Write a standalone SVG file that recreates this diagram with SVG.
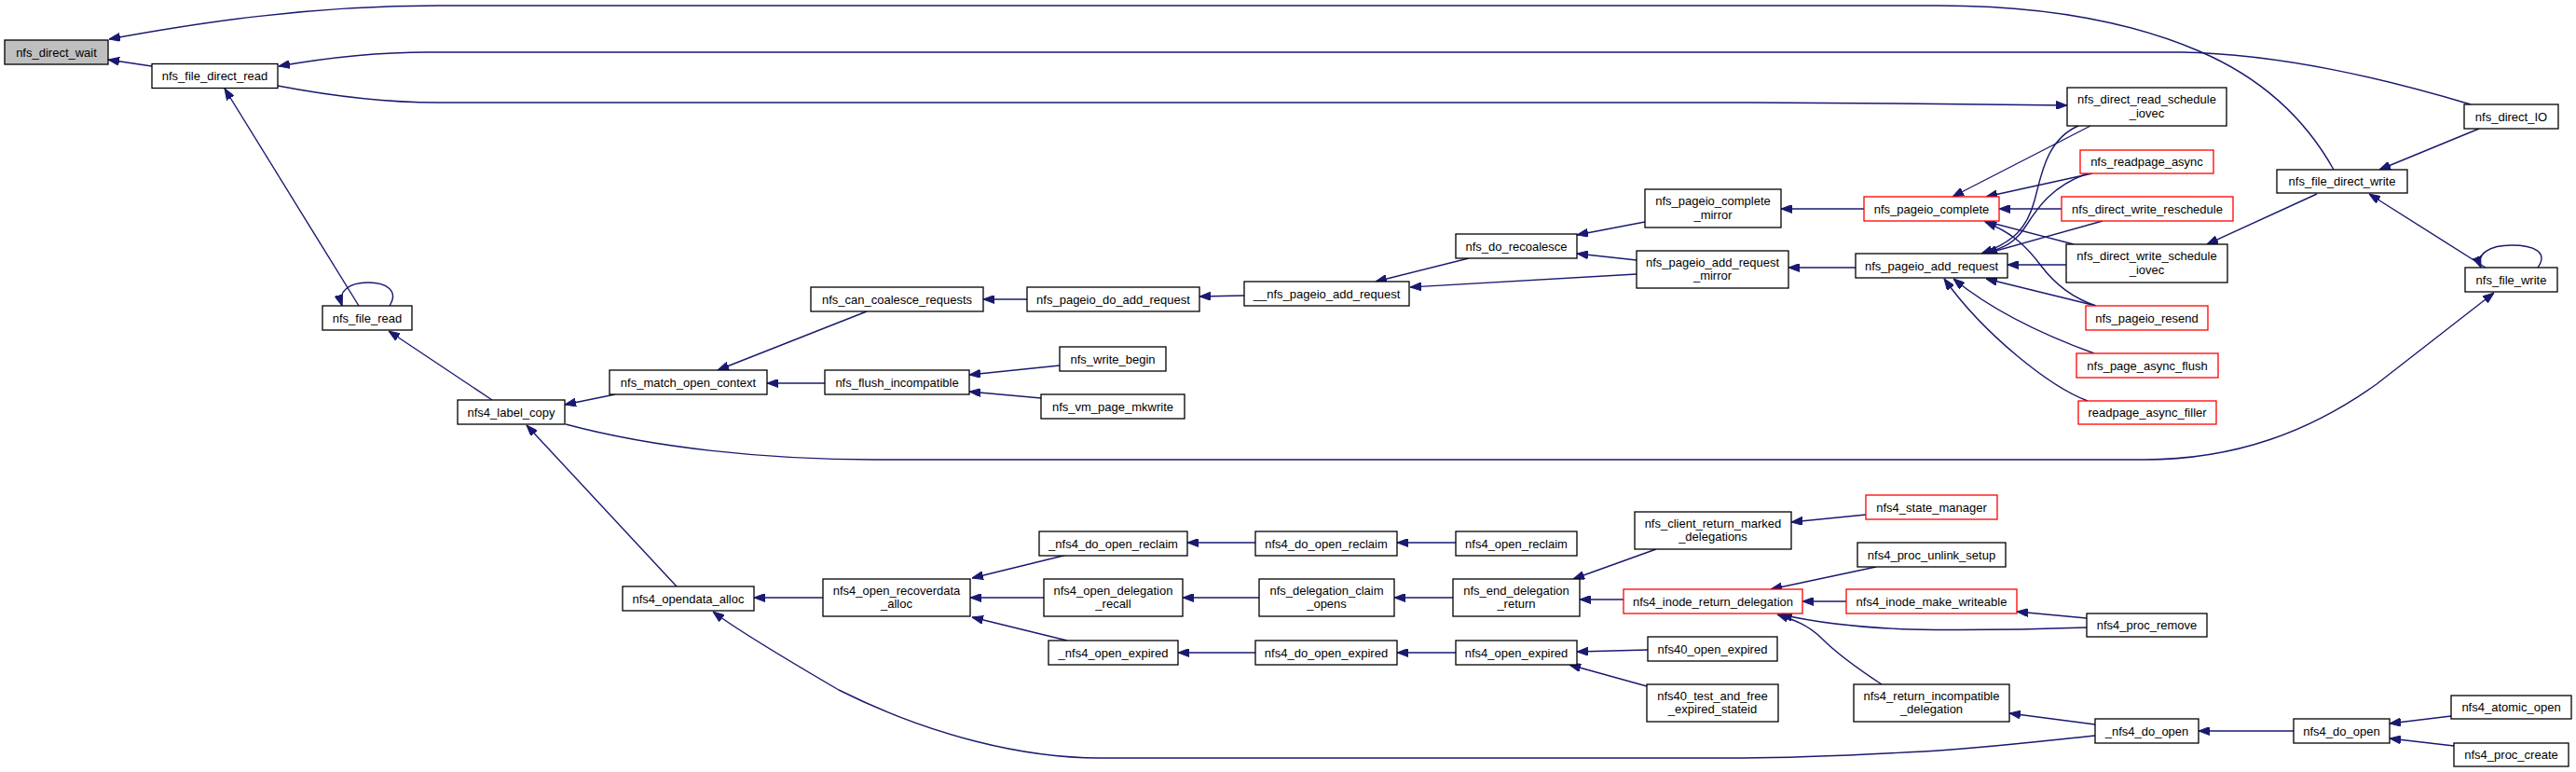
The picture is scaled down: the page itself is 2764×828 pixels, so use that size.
<svg xmlns="http://www.w3.org/2000/svg" width="2764" height="828" viewBox="0 0 2764 828">
<style>
.n rect{fill:#fff;stroke:#000;stroke-width:1.3}
.n.root rect{fill:#bfbfbf}
.n.red rect{stroke:#ff0000}
.n text{font-family:"Liberation Sans",Arial,sans-serif;font-size:13px;text-anchor:middle;fill:#000}
#edges path{fill:none;stroke:#191970;stroke-width:1.4;marker-end:url(#ah)}
</style>
<defs>
<marker id="ah" viewBox="0 0 12 9" refX="12" refY="4.5" markerWidth="12" markerHeight="9" markerUnits="userSpaceOnUse" orient="auto">
<path d="M0,0 L12,4.5 L0,9 z" fill="#191970" stroke="#191970" stroke-width="1"/>
</marker>
</defs>
<rect width="2764" height="828" fill="#fff"/>
<g id="edges">
<path d="M2504,182 C2475,130 2430,85 2360,55 C2290,25 2200,6 2080,6 L470,6 C330,6 210,25 117,42"/>
<path d="M163,71 L116,64"/>
<path d="M2651,112 C2560,85 2450,58 2340,56 L460,56 C400,56 350,62 299,71"/>
<path d="M298,92 C340,100 400,110 470,110 L1880,110 C2000,110 2100,112 2218,113"/>
<path d="M385,328 L241,95"/>
<path d="M418,328 C428,312 415,303 395,303 C375,303 362,312 367,328"/>
<path d="M528,429 L417,355"/>
<path d="M660,423 L606,434"/>
<path d="M726,629 L565,456"/>
<path d="M607,455 C700,480 820,493 940,493 L2300,493 C2400,493 2480,462 2550,412 L2676,314"/>
<path d="M930,334 L770,397"/>
<path d="M885,411 L823,411"/>
<path d="M1102,321 L1055,321"/>
<path d="M1335,317 L1287,318"/>
<path d="M1137,392 L1040,402"/>
<path d="M1117,427 L1040,420"/>
<path d="M1576,277 L1476,302"/>
<path d="M1756,294 L1513,308"/>
<path d="M1765,238 L1692,252"/>
<path d="M1756,279 L1692,272"/>
<path d="M2000,224 L1911,224"/>
<path d="M1991,287 L1919,287"/>
<path d="M2243,135 L2095,211"/>
<path d="M2230,135 C2195,150 2190,190 2183,215 C2175,245 2160,260 2126,272"/>
<path d="M2245,186 L2131,211"/>
<path d="M2240,186 C2200,200 2185,225 2172,245 C2160,262 2150,265 2131,272"/>
<path d="M2212,224 L2145,224"/>
<path d="M2256,237 L2131,272"/>
<path d="M2225,262 L2129,237"/>
<path d="M2217,284 L2154,284"/>
<path d="M2249,328 C2225,320 2205,305 2190,285 C2175,265 2160,250 2130,238"/>
<path d="M2249,328 L2131,299"/>
<path d="M2247,379 C2200,362 2140,335 2096,299"/>
<path d="M2240,430 C2200,415 2130,360 2086,299"/>
<path d="M2486,208 L2368,262"/>
<path d="M2660,138 L2553,182"/>
<path d="M2667,287 L2542,208"/>
<path d="M2723,287 C2735,270 2718,263 2695,263 C2672,263 2656,272 2662,287"/>
<path d="M883,641 L809,641"/>
<path d="M2248,789 C2180,796 2120,803 2064,806 C1990,810 1930,813 1870,813 L1180,813 C1100,813 1000,790 900,740 C840,705 790,675 765,656"/>
<path d="M1145,595 L1043,620"/>
<path d="M1120,641 L1041,641"/>
<path d="M1145,687 L1043,662"/>
<path d="M1347,582 L1274,582"/>
<path d="M1351,641 L1269,641"/>
<path d="M1347,700 L1264,700"/>
<path d="M1562,582 L1499,582"/>
<path d="M1559,641 L1496,641"/>
<path d="M1562,700 L1499,700"/>
<path d="M1777,589 L1688,621"/>
<path d="M1742,643 L1695,643"/>
<path d="M1768,697 L1692,699"/>
<path d="M1767,736 L1684,713"/>
<path d="M2002,552 L1922,560"/>
<path d="M2013,608 L1900,632"/>
<path d="M1981,645 L1934,645"/>
<path d="M2239,673 C2180,675 2100,676 2050,675 C1990,673 1950,668 1911,659"/>
<path d="M2019,734 C1990,715 1970,700 1955,685 C1940,670 1925,665 1907,659"/>
<path d="M2239,663 L2164,656"/>
<path d="M2248,777 L2156,765"/>
<path d="M2461,784 L2359,784"/>
<path d="M2630,768 L2564,776"/>
<path d="M2633,800 L2564,792"/>
</g>
<g id="nfs_direct_wait" class="n root"><rect x="5" y="43" width="111" height="26"/><text x="60.5" y="60.5">nfs_direct_wait</text></g>
<g id="nfs_file_direct_read" class="n"><rect x="163" y="68.5" width="135" height="26"/><text x="230.5" y="86">nfs_file_direct_read</text></g>
<g id="nfs_file_read" class="n"><rect x="346" y="328" width="96" height="26"/><text x="394" y="345.5">nfs_file_read</text></g>
<g id="nfs4_label_copy" class="n"><rect x="491" y="429" width="115" height="26"/><text x="548.5" y="446.5">nfs4_label_copy</text></g>
<g id="nfs_match_open_context" class="n"><rect x="654" y="397" width="169" height="26"/><text x="738.5" y="414.5">nfs_match_open_context</text></g>
<g id="nfs4_opendata_alloc" class="n"><rect x="668" y="629" width="141" height="26"/><text x="738.5" y="646.5">nfs4_opendata_alloc</text></g>
<g id="nfs_can_coalesce_requests" class="n"><rect x="870" y="308" width="185" height="26"/><text x="962.5" y="325.5">nfs_can_coalesce_requests</text></g>
<g id="nfs_flush_incompatible" class="n"><rect x="885" y="397" width="155" height="26"/><text x="962.5" y="414.5">nfs_flush_incompatible</text></g>
<g id="nfs4_open_recoverdata_alloc" class="n"><rect x="883" y="621" width="158" height="40"/><text x="962" y="637.5">nfs4_open_recoverdata</text><text x="962" y="652">_alloc</text></g>
<g id="nfs_pageio_do_add_request" class="n"><rect x="1102" y="308" width="185" height="26"/><text x="1194.5" y="325.5">nfs_pageio_do_add_request</text></g>
<g id="nfs_write_begin" class="n"><rect x="1137" y="372" width="114" height="26"/><text x="1194" y="389.5">nfs_write_begin</text></g>
<g id="nfs_vm_page_mkwrite" class="n"><rect x="1117" y="423" width="154" height="26"/><text x="1194" y="440.5">nfs_vm_page_mkwrite</text></g>
<g id="_nfs4_do_open_reclaim" class="n"><rect x="1115" y="570" width="159" height="26"/><text x="1194.5" y="587.5">_nfs4_do_open_reclaim</text></g>
<g id="nfs4_open_delegation_recall" class="n"><rect x="1120" y="621" width="149" height="40"/><text x="1194.5" y="637.5">nfs4_open_delegation</text><text x="1194.5" y="652">_recall</text></g>
<g id="_nfs4_open_expired" class="n"><rect x="1125" y="687" width="139" height="26"/><text x="1194.5" y="704.5">_nfs4_open_expired</text></g>
<g id="__nfs_pageio_add_request" class="n"><rect x="1335" y="302" width="177" height="26"/><text x="1423.5" y="319.5">__nfs_pageio_add_request</text></g>
<g id="nfs4_do_open_reclaim" class="n"><rect x="1347" y="570" width="152" height="26"/><text x="1423" y="587.5">nfs4_do_open_reclaim</text></g>
<g id="nfs_delegation_claim_opens" class="n"><rect x="1351" y="621" width="145" height="40"/><text x="1423.5" y="637.5">nfs_delegation_claim</text><text x="1423.5" y="652">_opens</text></g>
<g id="nfs4_do_open_expired" class="n"><rect x="1347" y="687" width="152" height="26"/><text x="1423" y="704.5">nfs4_do_open_expired</text></g>
<g id="nfs_do_recoalesce" class="n"><rect x="1562" y="251" width="130" height="26"/><text x="1627" y="268.5">nfs_do_recoalesce</text></g>
<g id="nfs4_open_reclaim" class="n"><rect x="1562" y="570" width="130" height="26"/><text x="1627" y="587.5">nfs4_open_reclaim</text></g>
<g id="nfs_end_delegation_return" class="n"><rect x="1559" y="621" width="136" height="40"/><text x="1627" y="637.5">nfs_end_delegation</text><text x="1627" y="652">_return</text></g>
<g id="nfs4_open_expired" class="n"><rect x="1562" y="687" width="130" height="26"/><text x="1627" y="704.5">nfs4_open_expired</text></g>
<g id="nfs_pageio_complete_mirror" class="n"><rect x="1765" y="203" width="146" height="41"/><text x="1838" y="220">nfs_pageio_complete</text><text x="1838" y="234.5">_mirror</text></g>
<g id="nfs_pageio_add_request_mirror" class="n"><rect x="1756" y="269" width="163" height="40"/><text x="1837.5" y="285.5">nfs_pageio_add_request</text><text x="1837.5" y="300">_mirror</text></g>
<g id="nfs_client_return_marked_delegations" class="n"><rect x="1754" y="549" width="168" height="40"/><text x="1838" y="565.5">nfs_client_return_marked</text><text x="1838" y="580">_delegations</text></g>
<g id="nfs4_inode_return_delegation" class="n red"><rect x="1742" y="632" width="192" height="26"/><text x="1838" y="649.5">nfs4_inode_return_delegation</text></g>
<g id="nfs40_open_expired" class="n"><rect x="1768" y="683" width="139" height="26"/><text x="1837.5" y="700.5">nfs40_open_expired</text></g>
<g id="nfs40_test_and_free_expired_stateid" class="n"><rect x="1767" y="734" width="141" height="40"/><text x="1837.5" y="750.5">nfs40_test_and_free</text><text x="1837.5" y="765">_expired_stateid</text></g>
<g id="nfs_pageio_complete" class="n red"><rect x="2000" y="211" width="145" height="26"/><text x="2072.5" y="228.5">nfs_pageio_complete</text></g>
<g id="nfs_pageio_add_request" class="n"><rect x="1991" y="272" width="163" height="26"/><text x="2072.5" y="289.5">nfs_pageio_add_request</text></g>
<g id="nfs4_state_manager" class="n red"><rect x="2002" y="531" width="141" height="26"/><text x="2072.5" y="548.5">nfs4_state_manager</text></g>
<g id="nfs4_proc_unlink_setup" class="n"><rect x="1993" y="582" width="159" height="26"/><text x="2072.5" y="599.5">nfs4_proc_unlink_setup</text></g>
<g id="nfs4_inode_make_writeable" class="n red"><rect x="1981" y="632" width="183" height="26"/><text x="2072.5" y="649.5">nfs4_inode_make_writeable</text></g>
<g id="nfs4_return_incompatible_delegation" class="n"><rect x="1989" y="734" width="167" height="40"/><text x="2072.5" y="750.5">nfs4_return_incompatible</text><text x="2072.5" y="765">_delegation</text></g>
<g id="nfs_direct_read_schedule_iovec" class="n"><rect x="2218" y="94" width="171" height="41"/><text x="2303.5" y="111">nfs_direct_read_schedule</text><text x="2303.5" y="125.5">_iovec</text></g>
<g id="nfs_readpage_async" class="n red"><rect x="2232" y="161" width="143" height="25"/><text x="2303.5" y="178">nfs_readpage_async</text></g>
<g id="nfs_direct_write_reschedule" class="n red"><rect x="2212" y="211" width="184" height="26"/><text x="2304" y="228.5">nfs_direct_write_reschedule</text></g>
<g id="nfs_direct_write_schedule_iovec" class="n"><rect x="2217" y="262" width="173" height="41"/><text x="2303.5" y="279">nfs_direct_write_schedule</text><text x="2303.5" y="293.5">_iovec</text></g>
<g id="nfs_pageio_resend" class="n red"><rect x="2238" y="328" width="131" height="26"/><text x="2303.5" y="345.5">nfs_pageio_resend</text></g>
<g id="nfs_page_async_flush" class="n red"><rect x="2228" y="379" width="152" height="26"/><text x="2304" y="396.5">nfs_page_async_flush</text></g>
<g id="readpage_async_filler" class="n red"><rect x="2230" y="430" width="148" height="25"/><text x="2304" y="447">readpage_async_filler</text></g>
<g id="nfs4_proc_remove" class="n"><rect x="2239" y="658" width="129" height="25"/><text x="2303.5" y="675">nfs4_proc_remove</text></g>
<g id="_nfs4_do_open" class="n"><rect x="2248" y="771" width="111" height="26"/><text x="2303.5" y="788.5">_nfs4_do_open</text></g>
<g id="nfs_file_direct_write" class="n"><rect x="2443" y="182" width="140" height="25"/><text x="2513" y="199">nfs_file_direct_write</text></g>
<g id="nfs4_do_open" class="n"><rect x="2461" y="771" width="103" height="26"/><text x="2512.5" y="788.5">nfs4_do_open</text></g>
<g id="nfs_direct_IO" class="n"><rect x="2644" y="112" width="101" height="26"/><text x="2694.5" y="129.5">nfs_direct_IO</text></g>
<g id="nfs_file_write" class="n"><rect x="2645" y="287" width="99" height="26"/><text x="2694.5" y="304.5">nfs_file_write</text></g>
<g id="nfs4_atomic_open" class="n"><rect x="2630" y="746" width="129" height="25"/><text x="2694.5" y="763">nfs4_atomic_open</text></g>
<g id="nfs4_proc_create" class="n"><rect x="2633" y="797" width="123" height="25"/><text x="2694.5" y="814">nfs4_proc_create</text></g>
</svg>
